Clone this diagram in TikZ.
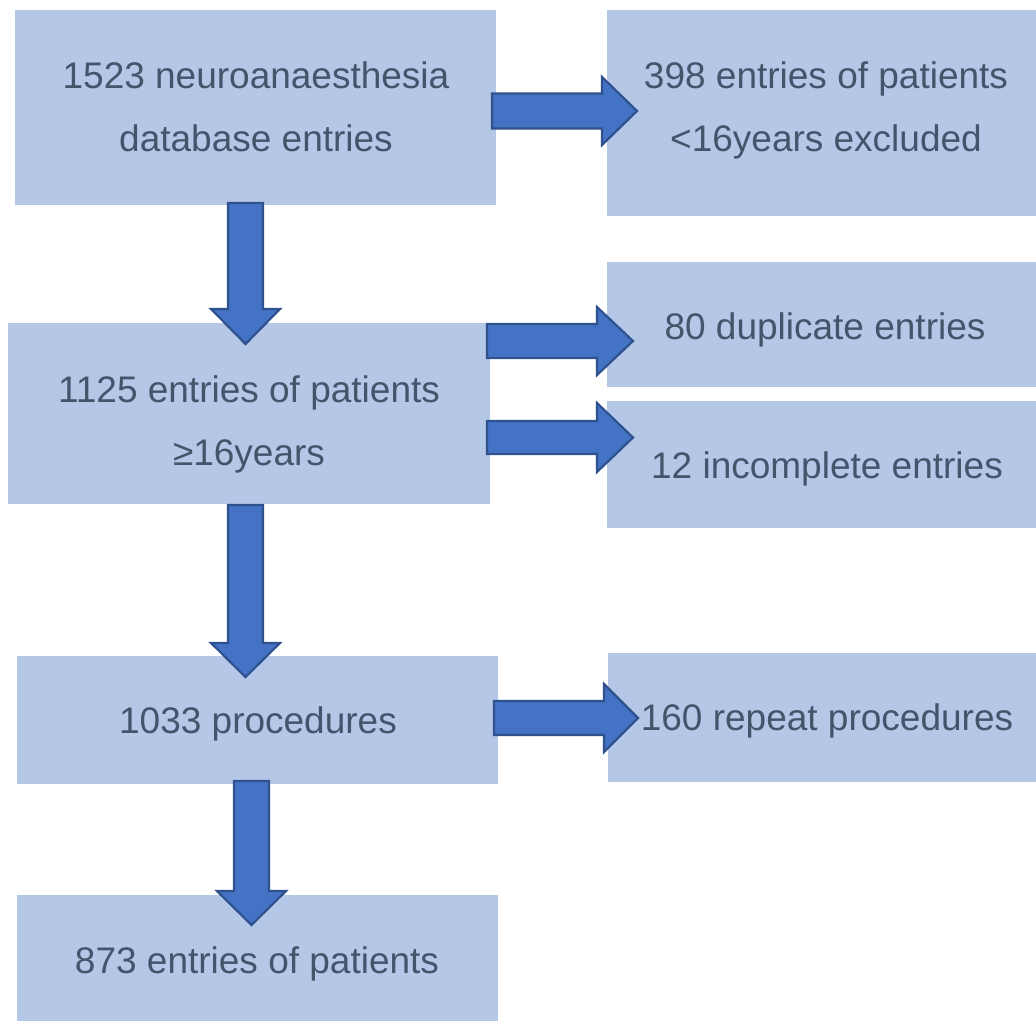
\documentclass[tikz,border=0pt]{standalone}
\usepackage{fontspec}
\setmainfont{Liberation Sans}
\definecolor{boxfill}{HTML}{B4C7E7}
\definecolor{txtcol}{HTML}{44546A}
\definecolor{arrfill}{HTML}{4472C4}
\definecolor{arrdraw}{HTML}{2F528F}
\tikzset{
  box/.style={fill=boxfill, draw=none, anchor=north west, inner sep=0pt},
  txt/.style={text=txtcol, align=center, anchor=base, inner sep=0pt,
    font=\fontsize{37}{63}\selectfont},
  blockarrow/.style={fill=arrfill, draw=arrdraw, line width=2.2pt, line join=miter},
}
% right block arrow: x0, x1(tip), yc, shaft half, head half, head length
\newcommand\myrarrow[6]{%
  \draw[blockarrow] (#1,#3-#4) -- (#2-#6,#3-#4) -- (#2-#6,#3-#5) -- (#2,#3)
    -- (#2-#6,#3+#5) -- (#2-#6,#3+#4) -- (#1,#3+#4) -- cycle;}
% down block arrow: xc, y0, y1(tip), shaft half, head half, head length
\newcommand\mydarrow[6]{%
  \draw[blockarrow] (#1-#4,#2) -- (#1-#4,#3-#6) -- (#1-#5,#3-#6) -- (#1,#3)
    -- (#1+#5,#3-#6) -- (#1+#4,#3-#6) -- (#1+#4,#2) -- cycle;}
\begin{document}
\begin{tikzpicture}[x=1pt,y=-1pt]
\useasboundingbox (0,0) rectangle (1036,1021);
% boxes
\node[box, minimum width=481pt, minimum height=195pt] (A) at (15,10) {};
\node[box, minimum width=429pt, minimum height=206pt] (B) at (607,10) {};
\node[box, minimum width=482pt, minimum height=181pt] (C) at (8,323) {};
\node[box, minimum width=429pt, minimum height=125pt] (D) at (607,262) {};
\node[box, minimum width=429pt, minimum height=127pt] (E) at (607,401) {};
\node[box, minimum width=481pt, minimum height=128pt] (F) at (17,656) {};
\node[box, minimum width=428pt, minimum height=129pt] (G) at (608,653) {};
\node[box, minimum width=481pt, minimum height=126pt] (H) at (17,895) {};
% texts (two-line nodes anchored at the baseline of their last line)
\node[txt] (At) at (256,151) {1523 neuroanaesthesia\\database entries};
\node[txt] (Bt) at (826,151) {398 entries of patients\\<16years excluded};
\node[txt] (Ct) at (249,465) {1125 entries of patients\\≥16years};
\node[txt] (Dt) at (825,339) {80 duplicate entries};
\node[txt] (Et) at (827,478) {12 incomplete entries};
\node[txt] (Ft) at (258,733) {1033 procedures};
\node[txt] (Gt) at (827,730) {160 repeat procedures};
\node[txt] (Ht) at (257,973) {873 entries of patients};
% arrows
\myrarrow{492}{637}{111}{17.5}{34}{35}
\myrarrow{487}{633}{341}{17}{34}{36}
\myrarrow{487}{633}{437.5}{16.5}{34.5}{36}
\myrarrow{494}{638}{718}{17}{34}{34}
\mydarrow{245.5}{203}{344}{17.5}{34.5}{35}
\mydarrow{245.5}{505}{677}{17.5}{34.5}{34}
\mydarrow{251.5}{781}{925}{17.5}{34.5}{34}
\end{tikzpicture}
\end{document}
